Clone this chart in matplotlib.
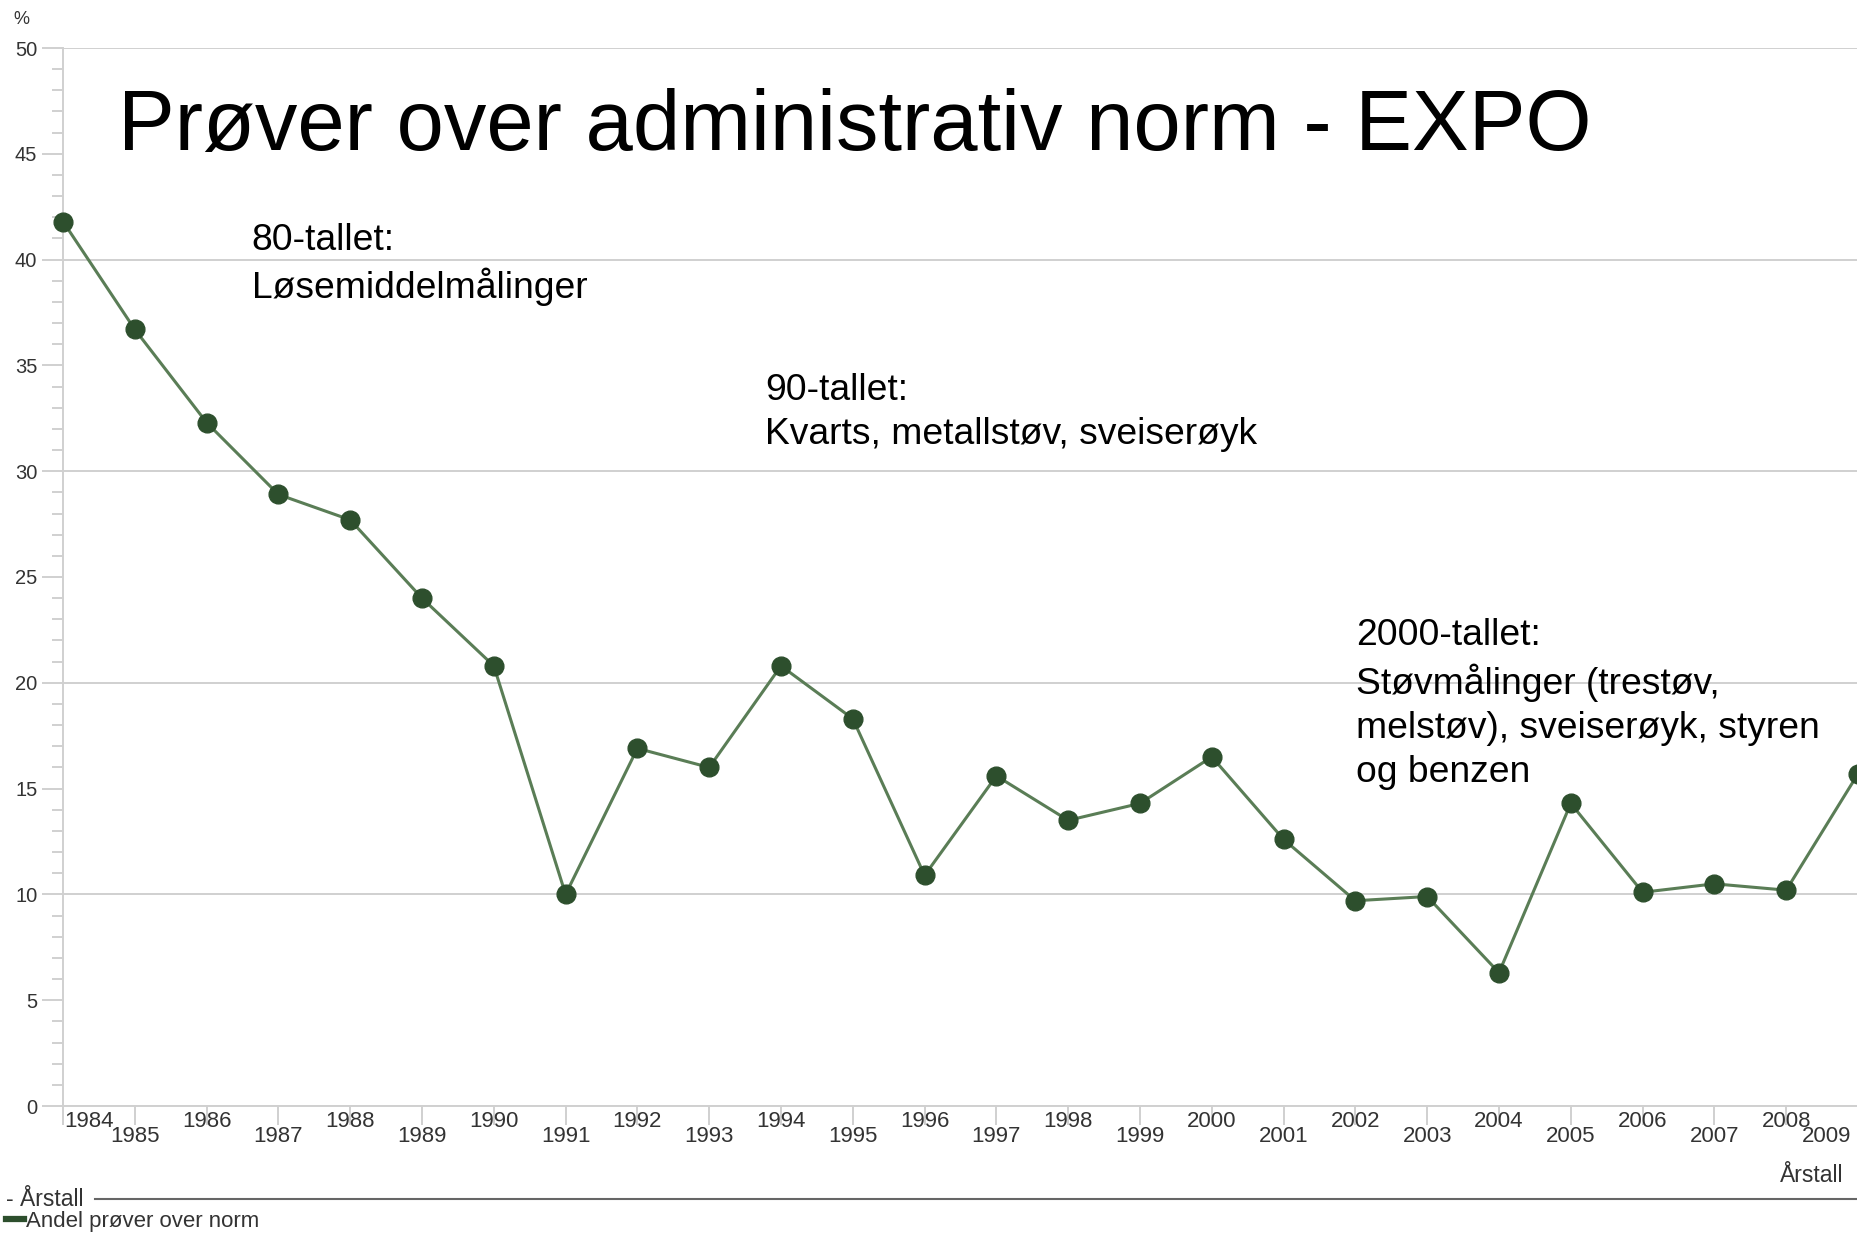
import numpy as np
import matplotlib
matplotlib.use('Agg')
import matplotlib.pyplot as plt
from matplotlib.ticker import MultipleLocator
from matplotlib.transforms import ScaledTranslation
from matplotlib.lines import Line2D

plt.rcParams['font.family'] = ['Liberation Sans', 'DejaVu Sans']

# ---- data ----
years = list(range(1984, 2010))
andel = [41.8, 36.7, 32.3, 28.9, 27.7, 24.0, 20.8, 10.0, 16.9, 16.0,
         20.8, 18.3, 10.9, 15.6, 13.5, 14.3, 16.5, 12.6, 9.7, 9.9,
         6.3, 14.3, 10.1, 10.5, 10.2, 15.7]
title = 'Prøver over administrativ norm - EXPO'
notes = [(1986.63, 41.75, '80-tallet:\nLøsemiddelmålinger'),
         (1993.78, 34.65, '90-tallet:\nKvarts, metallstøv, sveiserøyk'),
         (2002.01, 23.05, '2000-tallet:\nStøvmålinger (trestøv,\nmelstøv), sveiserøyk, styren\nog benzen')]
series_name = 'Andel prøver over norm'
xname = 'Årstall'

LINE = '#5a7d56'
MK = '#2d4f2d'
GRID = '#d0d0d0'
TXT = '#333333'

W, H = 1858, 1235
fig = plt.figure(figsize=(W/100, H/100), dpi=100)
ax = fig.add_axes([63/W, (H-1106)/H, 1-63/W, (1106-48)/H])

ax.plot(years, andel, color=LINE, lw=2.2, marker='o', ms=13.5, mfc=MK, mec=MK,
        clip_on=False, zorder=5)
ax.set_xlim(1984, 2009); ax.set_ylim(0, 50)
for s in ('top', 'right'):
    ax.spines[s].set_visible(False)
for s in ('left', 'bottom'):
    ax.spines[s].set_color(GRID); ax.spines[s].set_linewidth(1.4)

# y axis: labels every 5, minor every 1, grid every 10
ax.yaxis.set_major_locator(MultipleLocator(5))
ax.yaxis.set_minor_locator(MultipleLocator(1))
ax.tick_params(axis='y', which='major', length=15, width=1.4, color=GRID,
               labelsize=14.5, labelcolor=TXT, pad=3.5)
ax.tick_params(axis='y', which='minor', length=8, width=1.4, color=GRID)
ax.grid(axis='y', which='major', color=GRID, lw=1.4)
for gl, v in zip(ax.get_ygridlines(), ax.get_yticks()):
    gl.set_visible(round(v) % 10 == 0)

# x axis: every year, labels staggered
ax.set_xticks(years)
ax.set_xticklabels([str(y) for y in years])
ax.tick_params(axis='x', length=14, width=1.4, color=GRID, labelsize=16,
               labelcolor=TXT, pad=-10.5)
for y, lbl in zip(years, ax.get_xticklabels()):
    dx, dy = 0.0, 0.0
    if y % 2:
        dy = -0.15
    if y == years[0]:
        dx = 0.26
    if y == years[-1]:
        dx = -0.31
    lbl.set_transform(lbl.get_transform() + ScaledTranslation(dx, dy, fig.dpi_scale_trans))

for x, y, s in notes:
    ax.text(x, y, s, fontsize=26.8, va='top', ha='left', linespacing=1.33, color='black')

fig.text(118/W, 1-150/H, title, fontsize=61.2, va='baseline', ha='left', color='black')
fig.text(13/W, 1-20/H, '%', fontsize=13, va='center', color=TXT)

# bottom legend strip
fig.text(1843/W, 1-1175/H, xname, ha='right', va='center', fontsize=16.5, color=TXT)
fig.text(6/W, 1-1199/H, '- ' + xname, fontsize=16.5, va='center', color=TXT)
fig.add_artist(Line2D([95/W, 1], [1-1199/H]*2, transform=fig.transFigure,
                      color='#666666', lw=1.5))
fig.legend(handles=[Line2D([], [], color=MK, lw=4.5)], labels=[series_name],
           loc='center left', bbox_to_anchor=(6/W, 1-1221/H), frameon=False,
           handlelength=0.8, handletextpad=0.1, borderpad=0, borderaxespad=0,
           fontsize=16, labelcolor=TXT)

fig.savefig('out.png', dpi=100)
